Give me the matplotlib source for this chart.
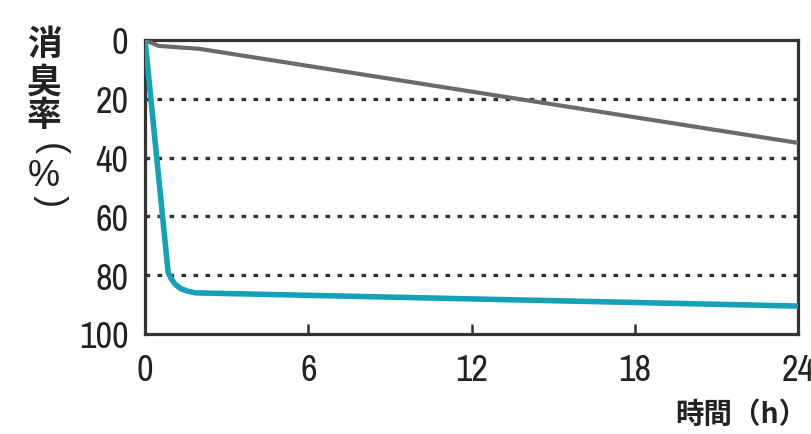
import matplotlib
matplotlib.use("Agg")
import matplotlib.pyplot as plt
from matplotlib import font_manager as fm

names = {f.name for f in fm.fontManager.ttflist}
num_font = "Liberation Sans"
for cand in ["Liberation Sans Narrow", "Arial Narrow", "Archivo Narrow", "Roboto Condensed", "Barlow Semi Condensed"]:
    if cand in names:
        num_font = cand
        break
cjk = ["Noto Sans CJK JP", "DejaVu Sans"]

# Data
hours_ref = [0, 0.5, 2, 24]
rate_ref = [0, 2, 3, 35]
hours_prod = [0, 0.85, 0.95, 1.1, 1.3, 1.55, 1.85, 24]
rate_prod = [0, 79, 81, 83, 84.5, 85.4, 86, 90.5]
x_ticks = [0, 6, 12, 18, 24]
y_ticks = [0, 20, 40, 60, 80, 100]

W, H = 812, 435
fig = plt.figure(figsize=(W / 100, H / 100), dpi=100)
ax = fig.add_axes([145 / W, 1 - 335 / H, (798 - 145) / W, (335 - 41) / H])

for y in [20, 40, 60, 80]:
    ax.axhline(y, color="#333333", lw=2.4, ls=(0, (1.4, 2.2)), zorder=1)

ax.plot(hours_ref, rate_ref, color="#6a6a6a", lw=3.0, solid_capstyle="butt", zorder=3)
ax.plot(hours_prod, rate_prod, color="#13a2b6", lw=4.0, solid_joinstyle="round", zorder=4)

ax.set_xlim(0, 24)
ax.set_ylim(100, 0)
ax.set_xticks(x_ticks)
ax.set_yticks(y_ticks)
ax.set_xticklabels([str(v) for v in x_ticks], family=num_font, fontsize=26, color="#222222")
ax.set_yticklabels([str(v) for v in y_ticks], family=num_font, fontsize=26, color="#222222")
ax.tick_params(axis="x", direction="in", length=7, width=1.8, color="#333333", pad=14)
ax.tick_params(axis="y", length=0, pad=12)
for s in ax.spines.values():
    s.set_linewidth(2.3)
    s.set_color("#333333")

# vertical y-axis label 消臭率(%)
def fpos(px, py):
    return px / W, 1 - py / H

label_parts = [("消", 44, 45, 0, cjk), ("臭", 44, 82, 0, cjk), ("率", 44, 116, 0, cjk),
               ("(", 50, 149, -90, ["Liberation Sans", "DejaVu Sans"]),
               ("%", 44, 177, 0, ["Liberation Sans", "DejaVu Sans"]),
               (")", 50, 201, -90, ["Liberation Sans", "DejaVu Sans"])]
for ch, px, py, rot, fam in label_parts:
    x, y = fpos(px, py)
    size = 25 if fam is cjk else 26
    fig.text(x, y, ch, family=fam, fontsize=size, fontweight="bold" if fam is cjk else "normal",
             color="#222222", ha="center", va="center", rotation=rot, rotation_mode="anchor")

x, y = fpos(807, 415)
fig.text(x, y, "時間（h）", family=cjk, fontsize=20.5, fontweight="bold", color="#222222",
         ha="right", va="center")

fig.savefig("out.png", dpi=100)
